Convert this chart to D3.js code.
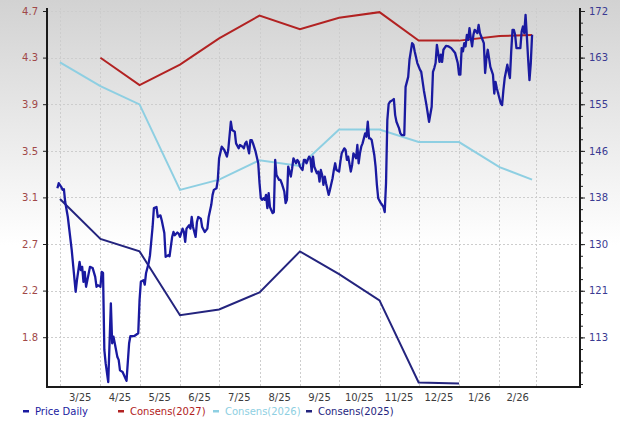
<!DOCTYPE html>
<html>
<head>
<meta charset="utf-8">
<script src="https://d3js.org/d3.v7.min.js"></script>
<style>
    body { margin: 0; }
    svg text { font-family: "DejaVu Sans", Verdana, sans-serif; font-size: 10px; }
</style>
</head>
<body>
<svg width="620" height="423"></svg>
<script>

    // ---- data ----
    var monthLabels = ["3/25", "4/25", "5/25", "6/25", "7/25", "8/25", "9/25", "10/25", "11/25", "12/25", "1/26", "2/26"];

    // left axis (EPS consensus), right axis (price)
    var leftTicks = [4.7, 4.291, 3.882, 3.473, 3.064, 2.655, 2.246, 1.837];
    var rightTicks = [171.7, 163.28, 154.86, 146.44, 138.02, 129.6, 121.18, 112.76];

    var consDates = ["2025-03-01", "2025-04-01", "2025-05-01", "2025-06-01", "2025-07-01", "2025-08-01", "2025-09-01",
                     "2025-10-01", "2025-11-01", "2025-12-01", "2026-01-01", "2026-02-01", "2026-02-26"];
    var cons2027 = [null, 4.29, 4.05, 4.23, 4.46, 4.66, 4.54, 4.64, 4.69, 4.44, 4.44, 4.48, 4.49];
    var cons2026 = [4.25, 4.04, 3.88, 3.13, 3.22, 3.39, 3.34, 3.66, 3.66, 3.55, 3.55, 3.33, 3.22];
    var cons2025 = [3.05, 2.70, 2.59, 2.03, 2.08, 2.23, 2.59, 2.39, 2.16, 1.44, 1.43, null, null];

    var priceDaily = [
        ["2025-02-27",139.7],["2025-02-28",140.6],["2025-03-02",139.9],["2025-03-03",139.4],["2025-03-04",139.5],
        ["2025-03-05",137.2],["2025-03-07",134.5],["2025-03-10",128.5],["2025-03-13",121.0],["2025-03-14",123.1],
        ["2025-03-16",126.4],["2025-03-17",124.9],["2025-03-18",125.5],["2025-03-19",122.8],["2025-03-20",124.6],
        ["2025-03-21",121.9],["2025-03-22",123.1],["2025-03-24",125.5],["2025-03-26",125.3],["2025-03-28",123.7],
        ["2025-03-29",121.9],["2025-03-30",122.2],["2025-04-01",121.9],["2025-04-02",124.6],["2025-04-03",124.4],
        ["2025-04-04",110.5],["2025-04-05",108.1],["2025-04-07",104.7],["2025-04-09",118.9],["2025-04-10",111.7],
        ["2025-04-11",112.9],["2025-04-12",111.7],["2025-04-14",109.2],["2025-04-15",108.7],["2025-04-16",106.8],
        ["2025-04-18",106.5],["2025-04-21",104.9],["2025-04-23",111.7],["2025-04-24",113.0],["2025-04-27",113.0],
        ["2025-04-30",113.5],["2025-05-01",119.5],["2025-05-02",122.8],["2025-05-04",123.1],["2025-05-05",122.3],
        ["2025-05-06",124.4],["2025-05-08",126.2],["2025-05-09",127.6],["2025-05-11",132.7],["2025-05-12",136.1],
        ["2025-05-14",136.3],["2025-05-15",134.5],["2025-05-17",134.8],["2025-05-18",133.9],["2025-05-20",131.6],
        ["2025-05-21",127.3],["2025-05-23",127.6],["2025-05-24",127.4],["2025-05-26",130.9],["2025-05-27",131.8],
        ["2025-05-28",131.2],["2025-05-30",131.7],["2025-05-31",131.5],["2025-06-01",130.9],["2025-06-03",132.4],
        ["2025-06-04",131.8],["2025-06-05",130.0],["2025-06-06",132.4],["2025-06-08",133.0],["2025-06-09",132.4],
        ["2025-06-10",134.5],["2025-06-11",132.7],["2025-06-13",130.9],["2025-06-14",133.6],["2025-06-15",134.5],
        ["2025-06-17",134.2],["2025-06-18",132.7],["2025-06-20",131.8],["2025-06-22",132.4],["2025-06-23",134.5],
        ["2025-06-25",136.7],["2025-06-26",138.5],["2025-06-27",139.4],["2025-06-29",139.7],["2025-06-30",141.2],
        ["2025-07-01",145.1],["2025-07-03",147.2],["2025-07-05",146.6],["2025-07-07",145.4],["2025-07-08",146.6],
        ["2025-07-10",151.7],["2025-07-11",150.2],["2025-07-13",149.9],["2025-07-14",147.8],["2025-07-16",146.9],
        ["2025-07-17",147.5],["2025-07-19",147.2],["2025-07-20",146.9],["2025-07-21",147.8],["2025-07-22",148.1],
        ["2025-07-24",146.0],["2025-07-25",148.4],["2025-07-26",148.4],["2025-07-27",147.8],["2025-07-29",146.3],
        ["2025-07-31",144.2],["2025-08-01",140.6],["2025-08-02",137.9],["2025-08-03",137.6],["2025-08-04",137.9],
        ["2025-08-05",137.6],["2025-08-06",138.5],["2025-08-07",136.1],["2025-08-08",138.8],["2025-08-09",136.3],
        ["2025-08-11",135.2],["2025-08-12",135.4],["2025-08-13",144.8],["2025-08-14",142.1],["2025-08-16",141.2],
        ["2025-08-17",141.2],["2025-08-18",140.6],["2025-08-20",139.1],["2025-08-21",137.0],["2025-08-22",137.6],
        ["2025-08-23",143.6],["2025-08-25",141.8],["2025-08-26",143.3],["2025-08-27",145.1],["2025-08-29",144.2],
        ["2025-08-30",144.8],["2025-08-31",144.5],["2025-09-01",143.6],["2025-09-03",143.0],["2025-09-04",144.8],
        ["2025-09-05",144.8],["2025-09-06",144.2],["2025-09-08",145.4],["2025-09-09",145.1],["2025-09-10",142.7],
        ["2025-09-11",145.4],["2025-09-12",143.6],["2025-09-14",142.4],["2025-09-15",142.7],["2025-09-16",140.9],
        ["2025-09-17",143.0],["2025-09-18",142.1],["2025-09-19",140.3],["2025-09-20",141.8],["2025-09-21",140.6],
        ["2025-09-23",138.5],["2025-09-24",139.4],["2025-09-26",141.5],["2025-09-27",143.0],["2025-09-28",144.2],
        ["2025-09-29",143.0],["2025-10-01",142.7],["2025-10-02",144.5],["2025-10-03",146.0],["2025-10-05",146.9],
        ["2025-10-06",146.6],["2025-10-07",144.8],["2025-10-08",145.4],["2025-10-10",142.7],["2025-10-11",143.9],
        ["2025-10-12",146.0],["2025-10-14",145.1],["2025-10-15",147.5],["2025-10-16",144.2],["2025-10-17",146.0],
        ["2025-10-18",147.2],["2025-10-19",147.8],["2025-10-21",149.6],["2025-10-22",149.0],["2025-10-23",151.7],
        ["2025-10-24",148.7],["2025-10-25",148.7],["2025-10-26",148.4],["2025-10-28",145.7],["2025-10-29",143.6],
        ["2025-10-30",140.3],["2025-10-31",137.9],["2025-11-02",137.0],["2025-11-03",136.7],["2025-11-04",136.3],
        ["2025-11-05",135.4],["2025-11-06",140.6],["2025-11-07",152.0],["2025-11-08",154.9],["2025-11-09",155.3],
        ["2025-11-11",155.6],["2025-11-12",155.8],["2025-11-13",152.9],["2025-11-14",151.7],["2025-11-16",150.5],
        ["2025-11-17",149.6],["2025-11-18",149.3],["2025-11-20",149.3],["2025-11-21",158.0],["2025-11-23",159.8],
        ["2025-11-24",162.9],["2025-11-26",165.9],["2025-11-27",165.6],["2025-11-28",164.4],["2025-11-30",162.3],
        ["2025-12-02",161.1],["2025-12-03",160.7],["2025-12-05",157.4],["2025-12-07",154.7],["2025-12-09",151.7],
        ["2025-12-11",154.4],["2025-12-12",160.7],["2025-12-13",161.4],["2025-12-14",162.3],["2025-12-15",165.6],
        ["2025-12-17",162.5],["2025-12-18",163.8],["2025-12-19",162.5],["2025-12-20",164.7],["2025-12-22",165.4],
        ["2025-12-24",165.3],["2025-12-26",165.0],["2025-12-29",164.1],["2025-12-31",162.3],["2026-01-01",160.2],
        ["2026-01-02",160.2],["2026-01-03",165.0],["2026-01-04",164.4],["2026-01-05",165.9],["2026-01-06",165.3],
        ["2026-01-07",167.4],["2026-01-08",166.5],["2026-01-09",168.6],["2026-01-10",166.8],["2026-01-11",165.3],
        ["2026-01-12",167.4],["2026-01-13",168.3],["2026-01-15",167.7],["2026-01-16",169.2],["2026-01-17",167.7],
        ["2026-01-18",167.1],["2026-01-20",165.9],["2026-01-21",160.5],["2026-01-22",163.2],["2026-01-23",164.7],
        ["2026-01-24",163.2],["2026-01-25",161.6],["2026-01-27",160.2],["2026-01-28",156.8],["2026-01-29",158.9],
        ["2026-01-30",157.7],["2026-02-01",155.9],["2026-02-02",155.0],["2026-02-03",154.7],["2026-02-04",157.4],
        ["2026-02-05",159.6],["2026-02-07",162.0],["2026-02-08",160.7],["2026-02-09",159.6],["2026-02-10",164.4],
        ["2026-02-11",168.3],["2026-02-12",168.3],["2026-02-13",167.4],["2026-02-14",165.0],["2026-02-17",165.0],
        ["2026-02-18",168.0],["2026-02-19",168.9],["2026-02-20",167.7],["2026-02-21",171.0],["2026-02-22",167.1],
        ["2026-02-23",162.9],["2026-02-24",159.2],["2026-02-25",162.3],["2026-02-26",167.4]
    ];

    var cPrice = "#1a1aa0",
        c2027 = "#b22222",
        c2026 = "#8ecfe2",
        c2025 = "#24247e";

    // ---- layout ----
    var svg = d3.select("svg"),
        width = +svg.attr("width"),
        height = +svg.attr("height"),
        plot = {left: 47, right: 580, top: 8, bottom: 387};

    var parse = d3.timeParse("%Y-%m-%d");

    var x = d3.scaleTime()
        .domain([parse("2025-03-01"), parse("2026-03-01")])
        .range([60, 536]);

    var yLeft = d3.scaleLinear().domain([1.40, 4.70]).range([plot.bottom, 11]);
    var yRight = d3.scaleLinear().domain([103.8, 171.7]).range([plot.bottom, 11]);

    // background gradient
    var grad = svg.append("defs").append("linearGradient")
        .attr("id", "bg").attr("x1", 0).attr("y1", 0).attr("x2", 0).attr("y2", 1);
    grad.append("stop").attr("offset", "0%").attr("stop-color", "#d2d2d2");
    grad.append("stop").attr("offset", "58%").attr("stop-color", "#ffffff");
    grad.append("stop").attr("offset", "100%").attr("stop-color", "#ffffff");
    svg.append("rect").attr("width", width).attr("height", height).attr("fill", "url(#bg)");

    // grid
    var monthStarts = d3.timeMonth.range(parse("2025-03-01"), parse("2026-03-02"));
    var grid = svg.append("g").attr("class", "grid")
        .attr("stroke", "#cdcdcd").attr("stroke-width", 1).attr("stroke-dasharray", "2,2");
    grid.selectAll(".vline").data(monthStarts).enter().append("line")
        .attr("x1", function (d) { return Math.round(x(d)) + 0.5; })
        .attr("x2", function (d) { return Math.round(x(d)) + 0.5; })
        .attr("y1", plot.top).attr("y2", plot.bottom);
    grid.selectAll(".hline").data(leftTicks).enter().append("line")
        .attr("x1", plot.left).attr("x2", plot.right)
        .attr("y1", function (d) { return Math.round(yLeft(d)) + 0.5; })
        .attr("y2", function (d) { return Math.round(yLeft(d)) + 0.5; });

    // series
    function consLine(values) {
        var pts = consDates.map(function (d, i) { return {date: parse(d), v: values[i]}; });
        return d3.line()
            .defined(function (d) { return d.v !== null; })
            .x(function (d) { return x(d.date); })
            .y(function (d) { return yLeft(d.v); })(pts);
    }

    svg.append("path").attr("d", consLine(cons2025))
        .attr("fill", "none").attr("stroke", c2025).attr("stroke-width", 2);
    svg.append("path").attr("d", consLine(cons2026))
        .attr("fill", "none").attr("stroke", c2026).attr("stroke-width", 2);
    svg.append("path").attr("d", consLine(cons2027))
        .attr("fill", "none").attr("stroke", c2027).attr("stroke-width", 2);

    var priceLine = d3.line()
        .x(function (d) { return x(parse(d[0])); })
        .y(function (d) { return yRight(d[1]); });
    svg.append("path").attr("d", priceLine(priceDaily))
        .attr("fill", "none").attr("stroke", cPrice).attr("stroke-width", 2.3)
        .attr("stroke-linejoin", "round");

    // axes
    var leftAxis = svg.append("g")
        .attr("transform", "translate(" + plot.left + ",0)")
        .call(d3.axisLeft(yLeft).tickValues(leftTicks).tickFormat(d3.format(".1f"))
            .tickSize(4).tickPadding(5));
    leftAxis.select(".domain").remove();
    leftAxis.selectAll("line").attr("stroke", "#222");
    leftAxis.selectAll("text").attr("fill", "#a04848");

    var rightMinor = d3.range(0, 33).map(function (i) { return rightTicks[0] - i * (rightTicks[0] - rightTicks[1]) / 4; })
        .filter(function (v) { return v > yRight.domain()[0]; });
    var rightMinorAxis = svg.append("g")
        .attr("transform", "translate(" + plot.right + ",0)")
        .call(d3.axisRight(yRight).tickValues(rightMinor).tickSize(3).tickFormat(""));
    rightMinorAxis.select(".domain").remove();
    rightMinorAxis.selectAll("line").attr("stroke", "#222");

    var rightAxis = svg.append("g")
        .attr("transform", "translate(" + plot.right + ",0)")
        .call(d3.axisRight(yRight).tickValues(rightTicks).tickFormat(d3.format(".0f"))
            .tickSize(5).tickPadding(4));
    rightAxis.select(".domain").remove();
    rightAxis.selectAll("line").attr("stroke", "#222");
    rightAxis.selectAll("text").attr("fill", "#3a3a92");

    // frame
    var frame = svg.append("g").attr("stroke", "#1a1a1a").attr("stroke-width", 2);
    frame.append("line").attr("x1", plot.left).attr("x2", plot.left).attr("y1", plot.top).attr("y2", plot.bottom + 1);
    frame.append("line").attr("x1", plot.right).attr("x2", plot.right).attr("y1", plot.top).attr("y2", plot.bottom + 1);
    frame.append("line").attr("x1", plot.left).attr("x2", plot.right).attr("y1", plot.bottom).attr("y2", plot.bottom);

    // month labels centred mid-month
    svg.selectAll(".mlabel").data(monthLabels).enter().append("text")
        .attr("class", "mlabel")
        .attr("x", function (d, i) { return (x(monthStarts[i]) + x(monthStarts[i + 1])) / 2; })
        .attr("y", 401)
        .attr("text-anchor", "middle")
        .attr("fill", "#3c3c3c")
        .text(function (d) { return d; });

    // legend
    var legendItems = [
        {label: "Price Daily", color: cPrice, x: 23},
        {label: "Consens(2027)", color: c2027, x: 118},
        {label: "Consens(2026)", color: c2026, x: 213},
        {label: "Consens(2025)", color: c2025, x: 306}
    ];
    var legend = svg.selectAll(".legend").data(legendItems).enter().append("g")
        .attr("class", "legend")
        .attr("transform", function (d) { return "translate(" + d.x + ",0)"; });
    legend.append("rect")
        .attr("x", 0).attr("y", 410).attr("width", 6).attr("height", 2.5)
        .attr("fill", function (d) { return d.color; });
    legend.append("text")
        .attr("x", 12).attr("y", 415)
        .attr("fill", function (d) { return d.color; })
        .text(function (d) { return d.label; });

</script>
</body>
</html>
